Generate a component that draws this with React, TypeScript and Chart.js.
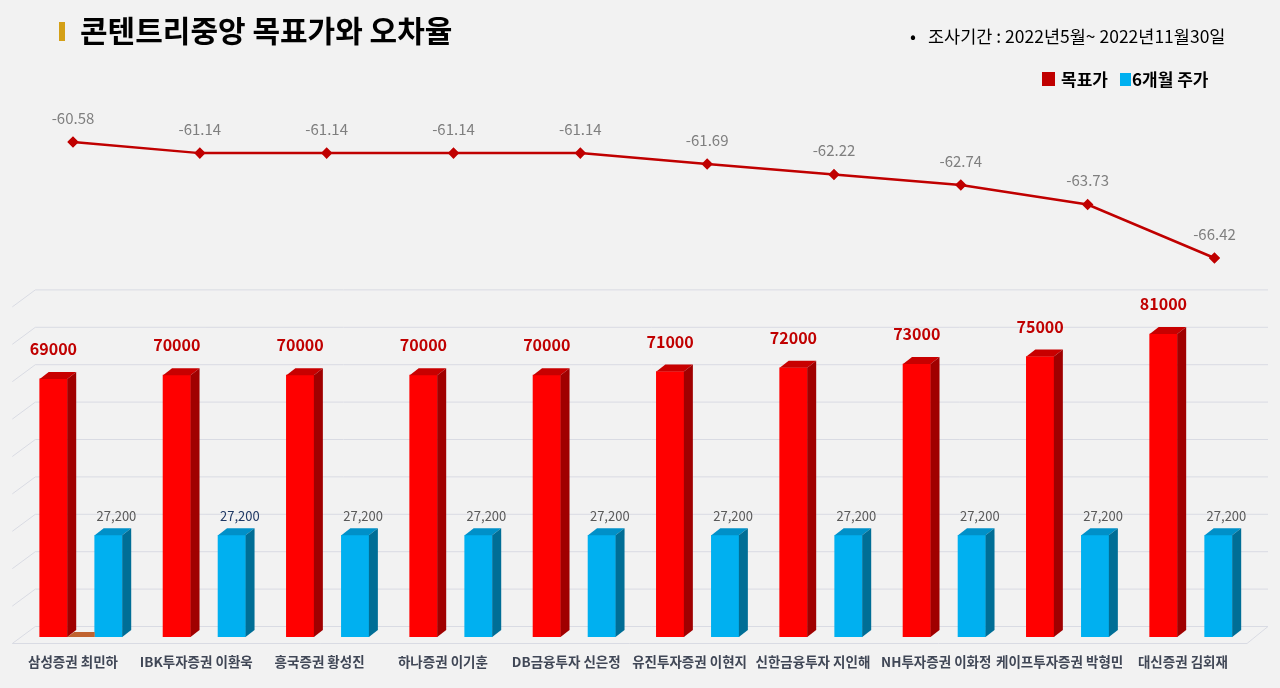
import React, { useEffect, useRef } from "react";
import { Chart, registerables } from "chart.js";

Chart.register(...registerables);

const FONT = '"Noto Sans CJK KR", "Noto Sans", sans-serif';

const categories = [
  "삼성증권 최민하",
  "IBK투자증권 이환욱",
  "흥국증권 황성진",
  "하나증권 이기훈",
  "DB금융투자 신은정",
  "유진투자증권 이현지",
  "신한금융투자 지인해",
  "NH투자증권 이화정",
  "케이프투자증권 박형민",
  "대신증권 김회재",
];
const targetPrices = [69000, 70000, 70000, 70000, 70000, 71000, 72000, 73000, 75000, 81000];
const stockPrices = [27200, 27200, 27200, 27200, 27200, 27200, 27200, 27200, 27200, 27200];
const errorRates = [-60.58, -61.14, -61.14, -61.14, -61.14, -61.69, -62.22, -62.74, -63.73, -66.42];
const gridTicks = [0, 10000, 20000, 30000, 40000, 50000, 60000, 70000, 80000, 90000];

const DX = 9;
const DY = -7;
const BAR_SHIFT = 0.223; // half slot, in category units
const BAR_W = 27.5;

function shade(ctx: CanvasRenderingContext2D, pts: number[][], color: string) {
  ctx.beginPath();
  ctx.moveTo(pts[0][0], pts[0][1]);
  for (let i = 1; i < pts.length; i++) ctx.lineTo(pts[i][0], pts[i][1]);
  ctx.closePath();
  ctx.fillStyle = color;
  ctx.fill();
}

const threeD = {
  id: "threeD",
  beforeDatasetsDraw(chart: any) {
    const ctx = chart.ctx as CanvasRenderingContext2D;
    const y = chart.scales.y;
    const area = chart.chartArea;
    const l = area.left - 7;
    const lb = area.left + 16;
    const r = 1268;
    ctx.save();
    ctx.strokeStyle = "#d9dbe3";
    ctx.lineWidth = 1;
    gridTicks.forEach((v) => {
      const py = y.getPixelForValue(v);
      const back = py - 10.5;
      const front = py + 6.5;
      ctx.beginPath();
      ctx.moveTo(l, front);
      ctx.lineTo(lb, back);
      ctx.lineTo(r, back);
      ctx.stroke();
    });
    const p0 = y.getPixelForValue(0) + 6.5;
    ctx.beginPath();
    ctx.moveTo(l, p0);
    ctx.lineTo(r - 21, p0);
    ctx.lineTo(r, p0 - 17);
    ctx.stroke();
    ctx.restore();
  },
  afterDatasetsDraw(chart: any) {
    const ctx = chart.ctx as CanvasRenderingContext2D;
    ctx.save();
    const faces = [
      { top: "#c80000", side: "#a00000" },
      { top: "#0090c8", side: "#006e96" },
    ];
    const r0 = chart.getDatasetMeta(0).data[0];
    const b0 = chart.getDatasetMeta(1).data[0];
    if (r0 && b0) {
      const rr = r0.x + r0.width / 2;
      const bl = b0.x - b0.width / 2;
      shade(
        ctx,
        [
          [rr, r0.base],
          [bl, r0.base],
          [bl, r0.base - 5],
          [rr + 7, r0.base - 5],
        ],
        "#c0622f"
      );
    }
    [0, 1].forEach((di) => {
      const meta = chart.getDatasetMeta(di);
      meta.data.forEach((el: any) => {
        const left = el.x - el.width / 2;
        const right = el.x + el.width / 2;
        const top = el.y;
        const base = el.base;
        shade(
          ctx,
          [
            [left, top],
            [right, top],
            [right + DX, top + DY],
            [left + DX, top + DY],
          ],
          faces[di].top
        );
        shade(
          ctx,
          [
            [right, top],
            [right + DX, top + DY],
            [right + DX, base + DY],
            [right, base],
          ],
          faces[di].side
        );
      });
    });

    ctx.textAlign = "center";
    ctx.textBaseline = "middle";
    chart.getDatasetMeta(0).data.forEach((el: any, i: number) => {
      ctx.font = `bold 16px ${FONT}`;
      ctx.fillStyle = "#c00000";
      ctx.fillText(String(targetPrices[i]), el.x, el.y - 30);
    });
    chart.getDatasetMeta(1).data.forEach((el: any, i: number) => {
      ctx.font = `13px ${FONT}`;
      ctx.fillStyle = i === 1 ? "#1f3864" : "#595959";
      ctx.fillText(stockPrices[i].toLocaleString("en-US"), el.x + 8, el.y - 19);
    });
    chart.getDatasetMeta(2).data.forEach((el: any, i: number) => {
      ctx.font = `15px ${FONT}`;
      ctx.fillStyle = "#7f7f7f";
      ctx.fillText(errorRates[i].toFixed(2), el.x, el.y - 24);
    });
    const xs = chart.scales.x;
    categories.forEach((c, i) => {
      ctx.font = `600 13.5px ${FONT}`;
      ctx.fillStyle = "#404756";
      ctx.fillText(c, xs.getPixelForValue(i) - 8, 662);
    });
    ctx.restore();
  },
};

function ChartView() {
  const ref = useRef<HTMLCanvasElement | null>(null);
  useEffect(() => {
    if (!ref.current) return;
    const top = 100;
    const bottom = 637;
    const pxPerUnit = 0.00374;
    const yMax = (bottom - top) / pxPerUnit;
    const linePx = 19.86;
    const lineMax = errorRates[0] + (142 - top) / linePx;
    const lineMin = errorRates[0] - (bottom - 142) / linePx;
    const chart = new Chart(ref.current, {
      type: "bar",
      data: {
        datasets: [
          {
            type: "bar",
            label: "목표가",
            data: targetPrices.map((v, i) => ({ x: i - BAR_SHIFT, y: v })),
            backgroundColor: "#ff0000",
            xAxisID: "x",
            yAxisID: "y",
            grouped: false,
            barThickness: BAR_W,
            order: 2,
          } as any,
          {
            type: "bar",
            label: "6개월 주가",
            data: stockPrices.map((v, i) => ({ x: i + BAR_SHIFT, y: v })),
            backgroundColor: "#00b0f0",
            xAxisID: "x",
            yAxisID: "y",
            grouped: false,
            barThickness: BAR_W,
            order: 2,
          } as any,
          {
            type: "line",
            label: "오차율",
            data: errorRates.map((v, i) => ({ x: i, y: v })),
            borderColor: "#c00000",
            backgroundColor: "#c00000",
            borderWidth: 2.5,
            pointStyle: "rectRot",
            pointRadius: 4,
            tension: 0,
            xAxisID: "xLine",
            yAxisID: "yLine",
            order: 1,
          } as any,
        ],
      },
      options: {
        responsive: false,
        animation: false,
        layout: { padding: { left: 19.3, right: 27.4, top: top, bottom: 688 - bottom } },
        plugins: { legend: { display: false }, tooltip: { enabled: false } },
        scales: {
          x: { type: "linear", display: false, offset: false, min: -0.5, max: 9.5 },
          xLine: { type: "linear", display: false, offset: false, min: -0.4234, max: 9.3006 },
          y: { type: "linear", display: false, min: 0, max: yMax },
          yLine: { type: "linear", display: false, min: lineMin, max: lineMax },
        },
      } as any,
      plugins: [threeD],
    });
    return () => chart.destroy();
  }, []);
  return <canvas ref={ref} width={1280} height={688} style={{ display: "block" }} />;
}

export default function App() {
  return (
    <div
      style={{
        position: "absolute",
        left: 0,
        top: 0,
        width: 1280,
        height: 688,
        background: "#f2f2f2",
        overflow: "hidden",
        fontFamily: FONT,
      }}
    >
      <ChartView />
      <div style={{ position: "absolute", left: 59, top: 22, width: 6, height: 19, background: "#d4a017" }} />
      <div
        style={{
          position: "absolute",
          left: 80,
          top: 9,
          fontSize: 30,
          fontWeight: "bold",
          color: "#000",
          whiteSpace: "nowrap",
          lineHeight: "40px",
        }}
      >
        콘텐트리중앙 목표가와 오차율
      </div>
      <div
        style={{
          position: "absolute",
          left: 910,
          top: 23,
          fontSize: 17.5,
          color: "#000",
          whiteSpace: "nowrap",
          lineHeight: "26px",
        }}
      >
        <span style={{ marginRight: 12 }}>•</span>조사기간 : 2022년5월~ 2022년11월30일
      </div>
      <div style={{ position: "absolute", left: 1042, top: 72, width: 13, height: 14, background: "#c00000" }} />
      <div
        style={{
          position: "absolute",
          left: 1061,
          top: 66,
          fontSize: 17,
          fontWeight: "bold",
          color: "#000",
          whiteSpace: "nowrap",
          lineHeight: "26px",
        }}
      >
        목표가
      </div>
      <div style={{ position: "absolute", left: 1120, top: 73, width: 11, height: 13, background: "#00b0f0" }} />
      <div
        style={{
          position: "absolute",
          left: 1132,
          top: 66,
          fontSize: 17,
          fontWeight: "bold",
          color: "#000",
          whiteSpace: "nowrap",
          lineHeight: "26px",
        }}
      >
        6개월 주가
      </div>
    </div>
  );
}
